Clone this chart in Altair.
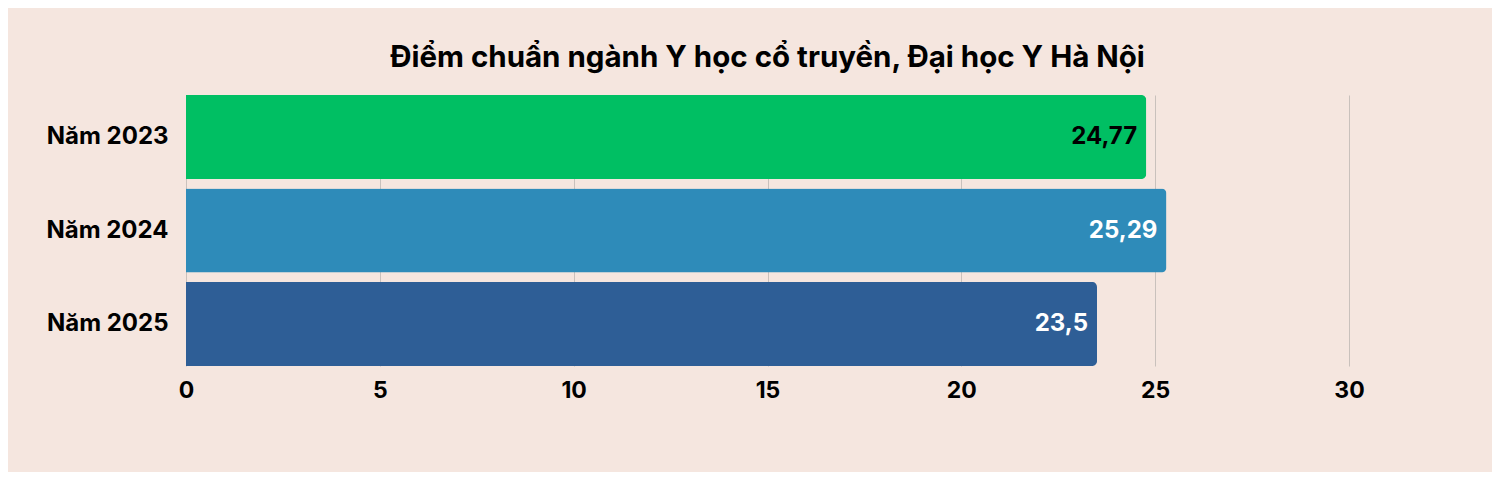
import altair as alt
import pandas as pd

years = ["Năm 2023", "Năm 2024", "Năm 2025"]
scores = [24.77, 25.29, 23.5]
labels = ["24,77", "25,29", "23,5"]
bar_colors = ["#00BF63", "#2E8BB9", "#2E5E96"]
label_colors = ["#000000", "#FFFFFF", "#FFFFFF"]

df = pd.DataFrame({"year": years, "score": scores, "label": labels,
                   "bc": bar_colors, "lc": label_colors})

FONT = "Inter"

y_enc = alt.Y("year:N", sort=years, title=None,
              scale=alt.Scale(paddingInner=0.1, paddingOuter=0),
              axis=alt.Axis(domain=False, ticks=False, labelFont=FONT, labelFontSize=24,
                            labelFontWeight="bold", labelColor="#000000", labelPadding=18))
x_enc = alt.X("score:Q", title=None, scale=alt.Scale(domain=[0, 30], nice=False),
              axis=alt.Axis(values=[0, 5, 10, 15, 20, 25, 30], domain=False, ticks=False,
                            grid=True, gridColor="#C9C1BC", gridWidth=1, labelFlush=False,
                            labelFont=FONT, labelFontSize=23, labelFontWeight="bold",
                            labelColor="#000000", labelPadding=13))

bars = alt.Chart(df).mark_bar(cornerRadiusTopRight=5, cornerRadiusBottomRight=5).encode(
    x=x_enc, y=y_enc, color=alt.Color("bc:N", scale=None)
)
text = alt.Chart(df).mark_text(align="right", baseline="middle", dx=-9, font=FONT,
                               fontSize=24, fontWeight="bold").encode(
    x="score:Q", y=alt.Y("year:N", sort=years), text="label:N",
    color=alt.Color("lc:N", scale=None)
)

chart = (bars + text).properties(
    width=1163, height=271,
    background="#F5E6DF",
    padding={"left": 178, "top": 87, "right": 143, "bottom": 106},
    autosize=alt.AutoSizeParams(type="none"),
    title=alt.TitleParams("Điểm chuẩn ngành Y học cổ truyền, Đại học Y Hà Nội",
                          font=FONT, fontSize=29.5, fontWeight="bold", color="#000000",
                          anchor="middle", offset=22),
).configure_view(stroke=None)

chart.save("out.html", embed_options={"renderer": "svg", "actions": False})
